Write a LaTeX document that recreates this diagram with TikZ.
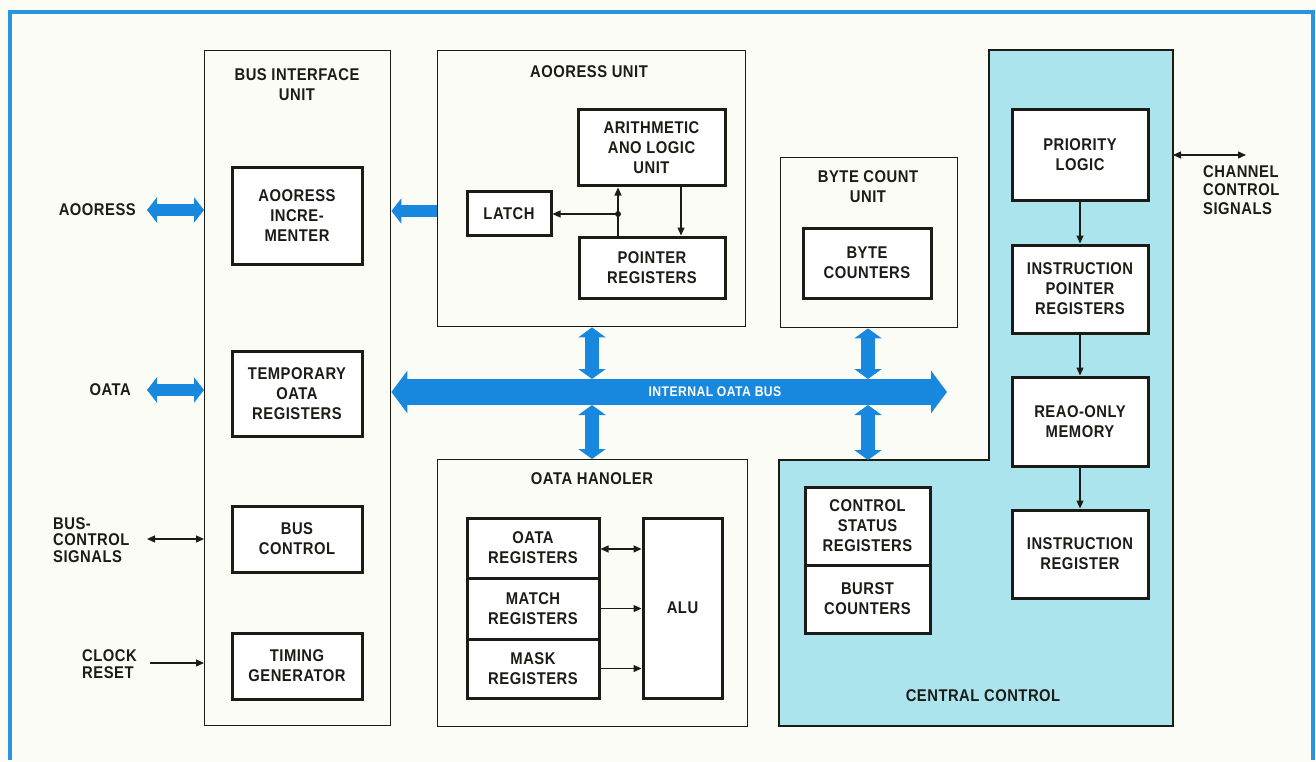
\documentclass[tikz,border=0pt]{standalone}
\usepackage{fontspec}
\setmainfont{Liberation Sans}[FakeStretch=0.87,LetterSpace=3]
\usetikzlibrary{arrows.meta,calc}
\definecolor{busblue}{RGB}{24,136,222}
\definecolor{frameblue}{RGB}{40,150,222}
\definecolor{ccfill}{RGB}{172,228,238}
\definecolor{paper}{RGB}{252,252,247}
\definecolor{ink}{RGB}{28,28,22}
\newcommand\lbl{\bfseries\fontsize{17}{20}\selectfont}
\begin{document}
\begin{tikzpicture}[x=1pt,y=-1pt,
  outer/.style={draw=ink, line width=1.4pt, inner sep=0pt, anchor=north west},
  inner/.style={draw=ink, line width=3pt, fill=white, align=center, font=\lbl, text=ink, inner sep=0pt},
  title/.style={align=center, font=\lbl, text=ink, inner sep=0pt},
  sidelbl/.style={align=left, font=\lbl, text=ink, inner sep=0pt},
  thinarr/.style={draw=ink, line width=1.2pt, -{Triangle[length=8pt,width=7pt]}},
  thindbl/.style={draw=ink, line width=1.2pt, {Triangle[length=8pt,width=7pt]}-{Triangle[length=8pt,width=7pt]}},
  fatside/.style={draw=busblue, line width=12pt, {Triangle[length=10pt,width=25pt]}-{Triangle[length=10pt,width=25pt]}},
  fatone/.style={draw=busblue, line width=12pt, -{Triangle[length=10pt,width=25pt]}},
  fatvert/.style={draw=busblue, line width=14pt, {Triangle[length=10pt,width=27pt]}-{Triangle[length=10pt,width=27pt]}},
  busarrow/.style={draw=busblue, line width=26pt, {Triangle[length=16pt,width=42pt]}-{Triangle[length=16pt,width=42pt]}}
]
% background and frame
\fill[paper] (0,0) rectangle (1316,762);
\useasboundingbox (0,0) rectangle (1316,762);
\draw[frameblue, line width=4pt] (10,760) -- (10,12) -- (1313,12) -- (1313,760);

% central control region
\draw[fill=ccfill, draw=ink, line width=1.4pt] (989,50) -- (1173,50) -- (1173,726) -- (779,726) -- (779,460) -- (989,460) -- cycle;

% bus interface unit
\node[outer, minimum width=186pt, minimum height=675pt] (biu) at (204,50) {};
\node[title] (biut) at (297,85) {BUS INTERFACE\\UNIT};
\node[inner, minimum width=130pt, minimum height=96pt] (aincr) at (297,216) {AOORESS\\INCRE-\\MENTER};
\node[inner, minimum width=130pt, minimum height=85pt] (tdr) at (297,393.5) {TEMPORARY\\OATA\\REGISTERS};
\node[inner, minimum width=130pt, minimum height=66pt] (bctl) at (297,539) {BUS\\CONTROL};
\node[inner, minimum width=130pt, minimum height=66pt] (tgen) at (297,666) {TIMING\\GENERATOR};

% address unit
\node[outer, minimum width=308pt, minimum height=276pt] (au) at (437,50) {};
\node[title] (aut) at (589,72) {AOORESS UNIT};
\node[inner, minimum width=147pt, minimum height=76pt] (alu1) at (651.5,148) {ARITHMETIC\\ANO LOGIC\\UNIT};
\node[inner, minimum width=84pt, minimum height=43pt] (latch) at (509,213.5) {LATCH};
\node[inner, minimum width=146pt, minimum height=61pt] (ptr) at (652,267.5) {POINTER\\REGISTERS};
\coordinate (junc) at (618,214);
\draw[thinarr] (ptr.north -| junc) -- (alu1.south -| junc);
\draw[thinarr] (junc) -- (latch.east |- junc);
\fill[ink] (junc) circle (3pt);
\coordinate (aluptr) at (681,200);
\draw[thinarr] (alu1.south -| aluptr) -- (ptr.north -| aluptr);

% byte count unit
\node[outer, minimum width=177pt, minimum height=170pt] (bcu) at (780,157) {};
\node[title] (bcut) at (868,187) {BYTE COUNT\\UNIT};
\node[inner, minimum width=128pt, minimum height=70pt] (bytec) at (867,263) {BYTE\\COUNTERS};

% data handler
\node[outer, minimum width=310pt, minimum height=267pt] (dh) at (437,459) {};
\node[title] (dht) at (592,479) {OATA HANOLER};
\node[inner, minimum width=132pt, minimum height=60pt] (dreg) at (533,548) {OATA\\REGISTERS};
\node[inner, minimum width=132pt, minimum height=61pt] (mreg) at (533,608.5) {MATCH\\REGISTERS};
\node[inner, minimum width=132pt, minimum height=59pt] (kreg) at (533,668.5) {MASK\\REGISTERS};
\node[inner, minimum width=79pt, minimum height=180pt] (alu2) at (682.5,608) {ALU};
\draw[thindbl] (dreg.east) ++(0,1) coordinate (d1) (d1) -- (alu2.west |- d1);
\draw[thinarr] (mreg.east) -- (alu2.west |- mreg.east);
\draw[thinarr] (kreg.east) -- (alu2.west |- kreg.east);

% central control contents
\node[inner, minimum width=136pt, minimum height=90pt] (prio) at (1080,155) {PRIORITY\\LOGIC};
\node[inner, minimum width=136pt, minimum height=88pt] (iptr) at (1080,289) {INSTRUCTION\\POINTER\\REGISTERS};
\node[inner, minimum width=136pt, minimum height=89pt] (rom) at (1080,421.5) {REAO-ONLY\\MEMORY};
\node[inner, minimum width=136pt, minimum height=88pt] (ireg) at (1080,554) {INSTRUCTION\\REGISTER};
\node[inner, minimum width=125pt, minimum height=78pt] (csr) at (867.5,526) {CONTROL\\STATUS\\REGISTERS};
\node[inner, minimum width=125pt, minimum height=68pt] (burst) at (867.5,599) {BURST\\COUNTERS};
\node[title] (cct) at (983,696) {CENTRAL CONTROL};
\draw[thinarr] (prio.south) -- (iptr.north);
\draw[thinarr] (iptr.south) -- (rom.north);
\draw[thinarr] (rom.south) -- (ireg.north);

% channel control signals
\coordinate (chr) at (1246,155);
\draw[thindbl] (1173,155) coordinate (chl) -- (chr);
\node[sidelbl, anchor=north west, font=\bfseries\fontsize{17}{18.5}\selectfont] (chl2) at (1203,165) {CHANNEL\\CONTROL\\SIGNALS};

% left side signals
\node[sidelbl, anchor=east] (addrl) at (136,210) {AOORESS};
\coordinate (adl) at (147,210);
\draw[fatside] (adl) -- (biu.west |- adl);
\node[sidelbl, anchor=east] (datal) at (131,390) {OATA};
\coordinate (dal) at (147,390);
\draw[fatside] (dal) -- (biu.west |- dal);
\node[sidelbl, anchor=west, font=\bfseries\fontsize{17}{16.5}\selectfont] (bcsl) at (53,540) {BUS-\\CONTROL\\SIGNALS};
\coordinate (bcsa) at (147,539);
\draw[thindbl] (bcsa) -- (biu.west |- bcsa);
\node[sidelbl, anchor=west, font=\bfseries\fontsize{17}{17}\selectfont] (clkl) at (82,664) {CLOCK\\RESET};
\coordinate (clka) at (150,663);
\draw[thinarr] (clka) -- (biu.west |- clka);

% address unit to incrementer
\coordinate (aulink) at (437,211);
\draw[fatone] (au.west |- aulink) -- (biu.east |- aulink);

% internal data bus
\coordinate (busr) at (947,392);
\draw[busarrow] (biu.east |- busr) -- (busr);
\node[text=white, font=\bfseries\fontsize{14}{14}\selectfont, inner sep=0pt] (busl) at (715,392) {INTERNAL OATA BUS};
\coordinate (v1t) at (592,379);
\coordinate (v1b) at (592,405);
\coordinate (v2t) at (868,379);
\coordinate (v2b) at (868,405);
\draw[fatvert] (au.south -| v1t) -- (v1t);
\draw[fatvert] (v1b) -- (dh.north -| v1b);
\draw[fatvert] (bcu.south -| v2t) -- (v2t);
\coordinate (cctop) at (868,460);
\draw[fatvert] (v2b) -- (cctop);
\end{tikzpicture}
\end{document}
